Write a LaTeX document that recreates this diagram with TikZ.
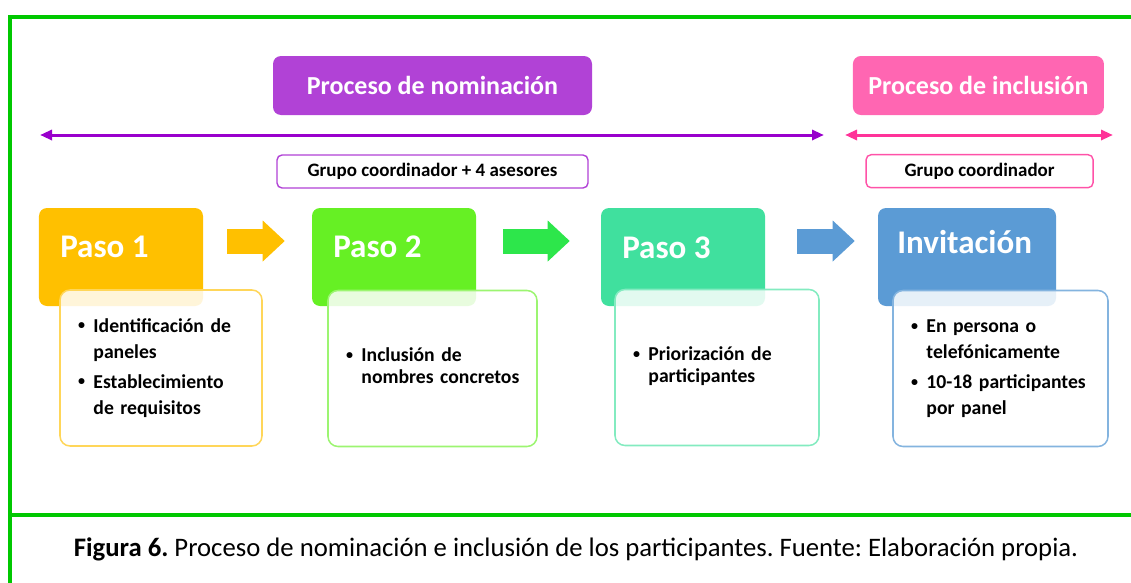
\documentclass[tikz,border=0pt]{standalone}
\usepackage{fontspec}
\setmainfont{Carlito}
\usepackage{tikz}
\usetikzlibrary{positioning,arrows.meta}
\definecolor{framegreen}{RGB}{0,200,0}
\definecolor{nomfill}{RGB}{177,66,214}
\definecolor{nomline}{RGB}{153,0,204}
\definecolor{incfill}{RGB}{255,102,178}
\definecolor{incline}{RGB}{255,51,153}
\definecolor{pasoA}{RGB}{255,192,0}
\definecolor{pasoB}{RGB}{102,240,36}
\definecolor{pasoC}{RGB}{64,224,158}
\definecolor{pasoD}{RGB}{91,155,213}
\definecolor{flowB}{RGB}{45,230,75}
\newcommand{\bul}{\raisebox{0.25ex}{\fontsize{10}{10}\selectfont\textbullet}}
\frenchspacing

\begin{document}
\begin{tikzpicture}[
    procbox/.style={
        rounded corners=0.2cm,
        text=white,
        font=\fontsize{18.5}{22}\selectfont\bfseries,
        minimum height=1.475cm,
        inner sep=0pt
    },
    teambox/.style={
        draw,
        line width=1pt,
        rounded corners=0.125cm,
        fill=white,
        font=\fontsize{13.5}{16}\selectfont\bfseries,
        minimum height=0.825cm,
        inner sep=0pt
    },
    headbox/.style={
        rounded corners=0.2cm,
        minimum width=4.1cm,
        minimum height=2.45cm,
        inner sep=0pt
    },
    headtext/.style={
        anchor=base west,
        inner sep=0pt,
        text=white,
        font=\fontsize{23.5}{28}\selectfont\bfseries
    },
    bodybox/.style={
        draw,
        line width=1.1pt,
        rounded corners=0.25cm,
        fill=white,
        fill opacity=0.85,
        text opacity=1,
        align=left,
        inner xsep=0.45cm,
        minimum height=3.9cm,
        font=\fontsize{14}{18.5}\selectfont\bfseries
    },
    flow/.style={
        -{Triangle[length=0.55cm,width=1.025cm,line width=0pt]},
        line width=0.625cm
    },
    span/.style={
        {Triangle[length=0.3cm,width=0.25cm]}-{Triangle[length=0.3cm,width=0.25cm]},
        line width=0.075cm
    },
    frame/.style={
        line width=0.1cm,
        draw=framegreen
    },
    figcaption/.style={
        font=\fontsize{19}{22}\selectfont
    }
]

\useasboundingbox (0,0) rectangle (28.275,-14.575);

% ============================================================
% FRAME
% ============================================================

\draw[frame] (28.4,-0.425) -- (0.258,-0.425) -- (0.258,-14.7);
\draw[frame] (0.258,-12.88) -- (28.4,-12.88);

% ============================================================
% PROCESSES
% ============================================================

\node[procbox, fill=nomfill, minimum width=7.975cm] (nomproc) at (10.8125,-2.1375)
{Proceso de nominación};

\node[procbox, fill=incfill, minimum width=6.275cm] (incproc) at (24.46,-2.1375)
{Proceso de inclusión};

\coordinate (nomL) at (1.0,-3.375);
\coordinate (nomR) at (20.6,-3.375);
\coordinate (incL) at (21.125,-3.375);
\coordinate (incR) at (27.825,-3.375);

\draw[span, nomline] (nomL) -- (nomR);
\draw[span, incline] (incL) -- (incR);

\node[teambox, draw=nomfill, minimum width=7.775cm] (nomteam) at (10.8125,-4.2875)
{Grupo coordinador + 4 asesores};

\node[teambox, draw=incline!85, minimum width=5.675cm] (incteam) at (24.49,-4.28)
{Grupo coordinador};

% ============================================================
% STEPS
% ============================================================

\node[headbox, fill=pasoA] (hd1) at (3.025,-6.425) {};
\node[headbox, fill=pasoB] (hd2) at (9.85,-6.425) {};
\node[headbox, fill=pasoC] (hd3) at (17.075,-6.425) {};
\node[headbox, fill=pasoD, minimum width=4.45cm] (hd4) at (24.175,-6.425) {};

\node[headtext] (lb1) at (1.5,-6.425) {Paso 1};
\node[headtext] (lb2) at (8.325,-6.425) {Paso 2};
\node[headtext] (lb3) at (15.55,-6.45) {Paso 3};
\node[headtext] (lb4) at (22.425,-6.325) {Invitación};

% block arrows between steps
\draw[flow, pasoA, shorten <=0.6cm, shorten >=0.675cm]
([yshift=0.4cm]hd1.east) -- ([yshift=0.4cm]hd2.west);
\draw[flow, flowB, shorten <=0.675cm, shorten >=0.775cm]
([yshift=0.4cm]hd2.east) -- ([yshift=0.4cm]hd3.west);
\draw[flow, pasoD, shorten <=0.8cm, shorten >=0.575cm]
([yshift=0.4cm]hd3.east) -- ([yshift=0.4cm]hd4.west);

% step contents
\node[bodybox, draw=pasoA!65, text width=4.15cm] (bd1) at (4.025,-9.2)
{\begin{tabular}{@{}l@{\hspace{6pt}}l@{}}
\bul & Identificación de\\
 & paneles\\[3pt]
\bul & Establecimiento\\
 & de requisitos
\end{tabular}};

\node[bodybox, draw=pasoB!65, text width=4.325cm,
      font=\fontsize{14}{15.6}\selectfont\bfseries] (bd2) at (10.8125,-9.2125)
{\begin{tabular}{@{}l@{\hspace{6pt}}l@{}}
\bul & Inclusión de\\
 & nombres concretos
\end{tabular}};

\node[bodybox, draw=pasoC!65, text width=4.2cm,
      font=\fontsize{14}{15.6}\selectfont\bfseries] (bd3) at (17.925,-9.1875)
{\begin{tabular}{@{}l@{\hspace{6pt}}l@{}}
\bul & Priorización de\\
 & participantes
\end{tabular}};

\node[bodybox, draw=pasoD!75, text width=4.475cm] (bd4) at (25.0125,-9.2125)
{\begin{tabular}{@{}l@{\hspace{6pt}}l@{}}
\bul & En persona o\\
 & telefónicamente\\[3pt]
\bul & 10-18 participantes\\
 & por panel
\end{tabular}};

% ============================================================
% CAPTION
% ============================================================

\node[figcaption] (cap) at (14.4,-13.725)
{\textbf{Figura 6.} Proceso de nominación e inclusión de los participantes. Fuente: Elaboración propia.};

\end{tikzpicture}
\end{document}
